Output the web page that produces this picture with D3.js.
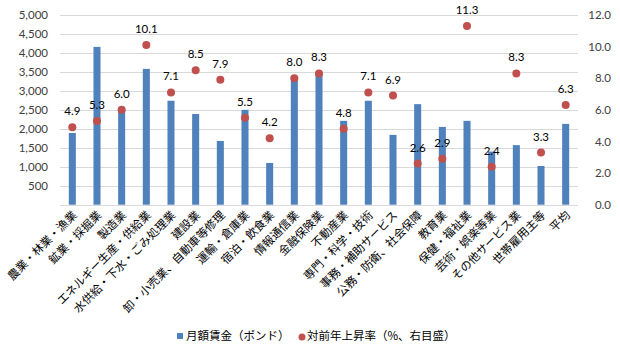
<!DOCTYPE html>
<html><head><meta charset="utf-8">
<script src="https://cdn.jsdelivr.net/npm/d3@7"></script>
<style>body{margin:0;background:#fff}svg{display:block}</style>
</head><body>
<script>
const categories = ["農業・林業・漁業","鉱業・採掘業","製造業","エネルギー生産・供給業","水供給・下水・ごみ処理業","建設業","卸・小売業、自動車等修理","運輸・倉庫業","宿泊・飲食業","情報通信業","金融保険業","不動産業","専門・科学・技術","事務・補助サービス","公務・防衛、社会保障","教育業","保健・福祉業","芸術・娯楽等業","その他サービス業","世帯雇用主等","平均"];
const wages = [1890,4160,2520,3580,2740,2390,1680,2500,1100,3390,3500,2210,2740,1840,2650,2050,2210,1400,1570,1020,2130];
const rates = [4.9,5.3,6.0,10.1,7.1,8.5,7.9,5.5,4.2,8.0,8.3,4.8,7.1,6.9,2.6,2.9,11.3,2.4,8.3,3.3,6.3];
const leftTicks = [500,1000,1500,2000,2500,3000,3500,4000,4500,5000];
const rightTicks = [0,2,4,6,8,10,12];
const legendLabels = ["月額賃金（ポンド）","対前年上昇率（%、右目盛）"];

const W=620,H=358;
const svg=d3.select("body").append("svg").attr("width",W).attr("height",H);
const x0=60,x1=578,yTop=15,yBot=204.7;
const x=d3.scaleBand().domain(categories).range([x0,x1]).paddingInner(0.715).paddingOuter(0.357);
const yL=d3.scaleLinear().domain([0,5000]).range([yBot,yTop]);
const yR=d3.scaleLinear().domain([0,12]).range([yBot,yTop]);
const numFont="Lato, 'Liberation Sans', sans-serif";
const jpFont="'Noto Sans CJK JP', sans-serif";

// gridlines
svg.append("g").selectAll("line").data(leftTicks).join("line")
  .attr("x1",x0).attr("x2",x1).attr("y1",d=>Math.round(yL(d))+0.5).attr("y2",d=>Math.round(yL(d))+0.5)
  .attr("stroke","#d9d9d9").attr("stroke-width",1);

// left axis
const gl=svg.append("g").attr("transform",`translate(${x0},0)`)
  .call(d3.axisLeft(yL).tickValues(leftTicks).tickFormat(d3.format(",")).tickSize(0).tickPadding(12));
gl.select(".domain").remove();
gl.selectAll("text").attr("font-family",numFont).attr("font-size",11.5).attr("fill","#404040");

// right axis
const gr=svg.append("g").attr("transform",`translate(${x1},0)`)
  .call(d3.axisRight(yR).tickValues(rightTicks).tickFormat(d3.format(".1f")).tickSize(0).tickPadding(33));
gr.select(".domain").remove();
gr.selectAll("text").attr("font-family",numFont).attr("font-size",11.5).attr("fill","#404040").attr("text-anchor","end");

// bars
svg.append("g").selectAll("rect").data(categories).join("rect")
  .attr("x",(d)=>x(d)).attr("width",x.bandwidth())
  .attr("y",(d,i)=>yL(wages[i])).attr("height",(d,i)=>yBot-yL(wages[i]))
  .attr("fill","#4f81bd");

// baseline
svg.append("line").attr("x1",x0).attr("x2",x1).attr("y1",Math.round(yBot)+0.5).attr("y2",Math.round(yBot)+0.5)
  .attr("stroke","#d9d9d9").attr("stroke-width",1);

// dots
const cx=d=>x(d)+x.bandwidth()/2;
svg.append("g").selectAll("circle").data(categories).join("circle")
  .attr("cx",cx).attr("cy",(d,i)=>yR(rates[i])).attr("r",4).attr("fill","#c0504d");
svg.append("g").selectAll("text").data(categories).join("text")
  .attr("x",cx).attr("y",(d,i)=>yR(rates[i])-12)
  .attr("text-anchor","middle").attr("font-family",numFont).attr("font-size",11.5).attr("fill","#000")
  .text((d,i)=>rates[i].toFixed(1));

// x labels
svg.append("g").selectAll("text").data(categories).join("text")
  .attr("transform",d=>`translate(${cx(d)+3},${yBot+9}) rotate(-45)`)
  .attr("text-anchor","end").attr("dominant-baseline","middle")
  .attr("font-family",jpFont).attr("font-size",11.5).attr("fill","#000")
  .text(d=>d);

// legend
const lg=svg.append("g");
lg.append("rect").attr("x",177).attr("y",333).attr("width",6).attr("height",6).attr("fill","#4f81bd");
lg.append("text").attr("x",186).attr("y",336.5).attr("dominant-baseline","middle")
  .attr("font-family",jpFont).attr("font-size",11.5).attr("fill","#000").text(legendLabels[0]);
lg.append("circle").attr("cx",302).attr("cy",337).attr("r",3.5).attr("fill","#c0504d");
lg.append("text").attr("x",307).attr("y",336.5).attr("dominant-baseline","middle")
  .attr("font-family",jpFont).attr("font-size",11.5).attr("fill","#000").text(legendLabels[1]);
</script>
</body></html>
